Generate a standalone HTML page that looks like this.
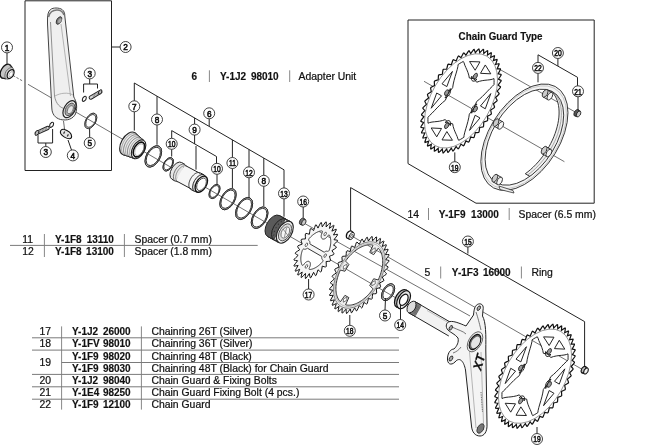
<!DOCTYPE html>
<html><head><meta charset="utf-8">
<style>
html,body{margin:0;padding:0;background:#fff;}
svg{display:block;will-change:transform;}
text{font-family:"Liberation Sans",sans-serif;fill:#111;stroke:#111;stroke-width:0.22px;}
.b{font-weight:bold;font-size:10px;stroke-width:0.15px;}
.t{font-size:10.4px;}
.ln{stroke:#222;stroke-width:1;fill:none;}
.tl{stroke:#7a7a7a;stroke-width:1.0;fill:none;}
.sep{stroke:#888;stroke-width:1;}
.lc{fill:#fff;stroke:#222;stroke-width:0.85;}
.lt{font-size:9.6px;text-anchor:middle;stroke-width:0.6px;}
</style></head>
<body>
<svg width="650" height="445" viewBox="0 0 650 445">
<!-- header texts -->
<g class="t">
  <text x="191.5" y="80" class="b">6</text>
  <text x="220.0" y="80" class="b">Y-1J2</text><text x="278.7" y="80" class="b" text-anchor="end">98010</text>
  <text x="298.5" y="80">Adapter Unit</text>

  <text x="407.5" y="217.5">14</text>
  <text x="438.8" y="217.5" class="b">Y-1F9</text><text x="498.9" y="217.5" class="b" text-anchor="end">13000</text>
  <text x="518.5" y="217.5">Spacer (6.5 mm)</text>

  <text x="424.5" y="276">5</text>
  <text x="451.8" y="276" class="b">Y-1F3</text><text x="510.7" y="276" class="b" text-anchor="end">16000</text>
  <text x="531.5" y="276">Ring</text>

  <text x="22.2" y="243">11</text>
  <text x="55.0" y="243" class="b">Y-1F8</text><text x="113.9" y="243" class="b" text-anchor="end">13110</text>
  <text x="134.5" y="243">Spacer (0.7 mm)</text>
  <text x="22.2" y="255.4">12</text>
  <text x="55.0" y="255.4" class="b">Y-1F8</text><text x="113.9" y="255.4" class="b" text-anchor="end">13100</text>
  <text x="134.5" y="255.4">Spacer (1.8 mm)</text>

  <text x="39.4" y="334.5">17</text>
  <text x="72.0" y="334.5" class="b">Y-1J2</text><text x="130.7" y="334.5" class="b" text-anchor="end">26000</text>
  <text x="151.5" y="334.5">Chainring 26T (Silver)</text>
  <text x="39.4" y="346.7">18</text>
  <text x="72.0" y="346.7" class="b">Y-1FV</text><text x="130.7" y="346.7" class="b" text-anchor="end">98010</text>
  <text x="151.5" y="346.7">Chainring 36T (Silver)</text>
  <text x="39.4" y="365.9">19</text>
  <text x="72.0" y="359.5" class="b">Y-1F9</text><text x="130.7" y="359.5" class="b" text-anchor="end">98020</text>
  <text x="151.5" y="359.5">Chainring 48T (Black)</text>
  <text x="72.0" y="371.5" class="b">Y-1F9</text><text x="130.7" y="371.5" class="b" text-anchor="end">98030</text>
  <text x="151.5" y="371.5">Chainring 48T (Black) for Chain Guard</text>
  <text x="39.4" y="383.8">20</text>
  <text x="72.0" y="383.8" class="b">Y-1J2</text><text x="130.7" y="383.8" class="b" text-anchor="end">98040</text>
  <text x="151.5" y="383.8">Chain Guard &amp; Fixing Bolts</text>
  <text x="39.4" y="396">21</text>
  <text x="72.0" y="396" class="b">Y-1E4</text><text x="130.7" y="396" class="b" text-anchor="end">98250</text>
  <text x="151.5" y="396">Chain Guard Fixing Bolt (4 pcs.)</text>
  <text x="39.4" y="408.3">22</text>
  <text x="72.0" y="408.3" class="b">Y-1F9</text><text x="130.7" y="408.3" class="b" text-anchor="end">12100</text>
  <text x="151.5" y="408.3">Chain Guard</text>

  <text x="458.6" y="39.5" class="b" textLength="84" lengthAdjust="spacingAndGlyphs">Chain Guard Type</text>
</g>
<!-- separators -->
<g class="sep">
  <line x1="209.4" y1="70.3" x2="209.4" y2="82"/>
  <line x1="289.7" y1="70.3" x2="289.7" y2="82"/>
  <line x1="428.5" y1="208" x2="428.5" y2="220"/>
  <line x1="509.2" y1="208" x2="509.2" y2="220"/>
  <line x1="440.7" y1="266.5" x2="440.7" y2="278.5"/>
  <line x1="521.4" y1="266.5" x2="521.4" y2="278.5"/>
  <line x1="44.4" y1="234" x2="44.4" y2="257"/>
  <line x1="124.4" y1="234" x2="124.4" y2="257"/>
  <line x1="61.6" y1="326.4" x2="61.6" y2="409.6"/>
  <line x1="141.4" y1="326.4" x2="141.4" y2="409.6"/>
</g>
<g class="tl">
  <line x1="10" y1="245.4" x2="257.7" y2="245.4"/>
  <line x1="32" y1="337.8" x2="399" y2="337.8"/>
  <line x1="32" y1="350.1" x2="399" y2="350.1"/>
  <line x1="61.6" y1="362.5" x2="399" y2="362.5"/>
  <line x1="32" y1="374.4" x2="399" y2="374.4"/>
  <line x1="32" y1="386.8" x2="399" y2="386.8"/>
  <line x1="32" y1="399.2" x2="399" y2="399.2"/>
</g>
<!-- boxes -->
<g class="ln">
  <polyline points="25,0.8 111.5,0.8 111.5,170.5 25,170.5 25,0.8"/>
  <polyline points="408,163.6 408,20 594.2,20 594.2,203.2 476,203.2 408,163.6"/>
</g>
<!-- PARTS -->
<g stroke="#333" stroke-width="0.7" fill="none">
<path d="M13,75.5 L23,81.2" stroke-dasharray="2.5,1.5"/>
<path d="M28,84.3 L415,309"/>
<path d="M302,222 L470,316"/>
<path d="M350,235 L585,371"/>
<path d="M424,81.3 L564.4,161.7"/>
<path d="M492,65 L577,113"/>
</g>
<circle transform="matrix(0.8660,-0.5,0,1,5.60,71.20)" r="6.3" fill="#c4c4c4" stroke="#111" stroke-width="1.3" vector-effect="non-scaling-stroke" />
<path d="M9.46,64.52 L12.58,67.88 L6.22,78.92 L1.74,77.88Z" fill="#c4c4c4" stroke="none"/><path d="M9.46,64.52 L12.58,67.88 M1.74,77.88 L6.22,78.92" stroke="#222" stroke-width="1.2" fill="none"/>
<circle transform="matrix(0.8660,-0.5,0,1,9.40,73.40)" r="5.2" fill="#d4d4d4" stroke="#555" stroke-width="0.8" vector-effect="non-scaling-stroke" />
<circle transform="matrix(0.8660,-0.5,0,1,10.60,74.10)" r="4.0" fill="#fafafa" stroke="#111" stroke-width="1.2" vector-effect="non-scaling-stroke" />
<circle transform="matrix(0.8660,-0.5,0,1,11.00,74.30)" r="2.4" fill="none" stroke="#999" stroke-width="0.7" vector-effect="non-scaling-stroke" />
<path d="M47.5,19 C47.5,9 52,8 56,8 C61,8 65,10 64.8,16 L73.8,97 C76,101 78,106 75.5,114 C73,119 67,121 60.5,119.5 C55,118 52,114 51.8,108 L47.5,24 Z" fill="#efefef" stroke="#444" stroke-width="1.0"/>
<path d="M50.5,22 L54.5,96 C56,104 60,108 66,109" fill="none" stroke="#777" stroke-width="0.8"/>
<path d="M61,24 L70.5,96" fill="none" stroke="#999" stroke-width="0.7"/>
<path d="M48.5,17 C50,11 54,10 57,10 C61,10 63,12 64,15" fill="none" stroke="#777" stroke-width="1.6"/>
<path d="M55,96 C60,93 68,92 73,95" fill="none" stroke="#999" stroke-width="0.7"/>
<circle transform="matrix(0.8660,-0.5,0,1,59.00,20.50)" r="3.2" fill="#777" stroke="#222" stroke-width="0.9" vector-effect="non-scaling-stroke" />
<circle transform="matrix(0.8660,-0.5,0,1,59.80,20.80)" r="2.0" fill="#aaa" stroke="#999" stroke-width="0.5" vector-effect="non-scaling-stroke" />
<circle transform="matrix(0.8660,-0.5,0,1,69.50,109.20)" r="7.6" fill="#eee" stroke="#222" stroke-width="1.2" vector-effect="non-scaling-stroke" />
<circle transform="matrix(0.8660,-0.5,0,1,69.90,109.40)" r="5.6" fill="#aaa" stroke="#444" stroke-width="0.9" vector-effect="non-scaling-stroke" />
<circle transform="matrix(0.8660,-0.5,0,1,70.30,109.70)" r="3.6" fill="#e8e8e8" stroke="#555" stroke-width="0.8" vector-effect="non-scaling-stroke" />
<path d="M63.5,121 L64.5,129" stroke="#444" stroke-width="0.8"/>
<path d="M90.8,97.6 L100.2,92.0" stroke="#222" stroke-width="4.3" stroke-linecap="round"/><path d="M90.8,97.6 L100.2,92.0" stroke="#d8d8d8" stroke-width="2.3" stroke-linecap="round"/><path d="M93.61,97.44 L92.80,94.90" stroke="#555" stroke-width="0.6"/><path d="M94.99,96.62 L94.17,94.08" stroke="#555" stroke-width="0.6"/><path d="M96.36,95.80 L95.55,93.26" stroke="#555" stroke-width="0.6"/><path d="M97.74,94.98 L96.92,92.44" stroke="#555" stroke-width="0.6"/><path d="M99.11,94.16 L98.30,91.62" stroke="#555" stroke-width="0.6"/><path d="M100.49,93.34 L99.67,90.80" stroke="#555" stroke-width="0.6"/>
<circle transform="matrix(0.8660,-0.5,0,1,100.20,92.00)" r="2.0" fill="#bbb" stroke="#222" stroke-width="1.0" vector-effect="non-scaling-stroke" />
<circle transform="matrix(0.8660,-0.5,0,1,84.30,98.80)" r="2.3" fill="#fff" stroke="#222" stroke-width="1.1" vector-effect="non-scaling-stroke" />
<path d="M36.9,132.9 L47.6,128.0" stroke="#222" stroke-width="4.3" stroke-linecap="round"/><path d="M36.9,132.9 L47.6,128.0" stroke="#d8d8d8" stroke-width="2.3" stroke-linecap="round"/><path d="M39.71,133.04 L39.18,130.43" stroke="#555" stroke-width="0.6"/><path d="M41.17,132.37 L40.63,129.76" stroke="#555" stroke-width="0.6"/><path d="M42.62,131.71 L42.09,129.09" stroke="#555" stroke-width="0.6"/><path d="M44.08,131.04 L43.54,128.43" stroke="#555" stroke-width="0.6"/><path d="M45.53,130.38 L45.00,127.76" stroke="#555" stroke-width="0.6"/><path d="M46.99,129.71 L46.45,127.10" stroke="#555" stroke-width="0.6"/>
<circle transform="matrix(0.8660,-0.5,0,1,36.90,132.90)" r="2.2" fill="#bbb" stroke="#222" stroke-width="1.0" vector-effect="non-scaling-stroke" />
<circle transform="matrix(0.8660,-0.5,0,1,51.60,124.80)" r="2.3" fill="#fff" stroke="#222" stroke-width="1.1" vector-effect="non-scaling-stroke" />
<path d="M60.8,130.5 C62.5,128.4 66,129.2 69.5,132.2 C72.5,135 72.2,138.8 69.4,138.8 C66.5,138.8 62,136 60.8,133.8 C60.2,132.6 60.2,131.4 60.8,130.5 Z" fill="#e4e4e4" stroke="#111" stroke-width="1.1"/>
<circle transform="matrix(0.8660,-0.5,0,1,64.20,132.60)" r="1.1" fill="#444" stroke="none" stroke-width="0" vector-effect="non-scaling-stroke" />
<circle transform="matrix(0.8660,-0.5,0,1,67.80,135.40)" r="1.1" fill="#444" stroke="none" stroke-width="0" vector-effect="non-scaling-stroke" />
<circle transform="matrix(0.8660,-0.5,0,1,90.80,120.90)" r="6.8999999999999995" fill="none" stroke="#222" stroke-width="0.8" vector-effect="non-scaling-stroke" /><circle transform="matrix(0.8660,-0.5,0,1,90.80,120.90)" r="6.3" fill="none" stroke="#ccc" stroke-width="1.2"/><circle transform="matrix(0.8660,-0.5,0,1,90.80,120.90)" r="6.8999999999999995" fill="none" stroke="#222" stroke-width="0.8" vector-effect="non-scaling-stroke" /><circle transform="matrix(0.8660,-0.5,0,1,90.80,120.90)" r="5.7" fill="none" stroke="#222" stroke-width="0.8" vector-effect="non-scaling-stroke" />
<path d="M134.75,132.68 L143.74,140.39 L133.46,158.21 L122.25,154.32Z" fill="#e8e8e8" stroke="none"/><path d="M134.75,132.68 L143.74,140.39 M122.25,154.32 L133.46,158.21" stroke="#222" stroke-width="1.0" fill="none"/>
<circle transform="matrix(0.8660,-0.5,0,1,128.50,143.50)" r="10.2" fill="#e8e8e8" stroke="#222" stroke-width="1.1" vector-effect="non-scaling-stroke" />
<path d="M134.75,132.68 L143.74,140.39 L133.46,158.21 L122.25,154.32Z" fill="#e8e8e8" stroke="none"/><path d="M134.75,132.68 L143.74,140.39 M122.25,154.32 L133.46,158.21" stroke="#222" stroke-width="1.0" fill="none"/>
<path d="M136.25,133.97 L135.71,133.71 L135.13,133.53 L134.52,133.42 L133.88,133.40 L133.21,133.46 L132.52,133.59 L131.81,133.81 L131.09,134.10 L130.37,134.46 L129.64,134.90 L128.91,135.41 L128.20,135.98 L127.50,136.61 L126.82,137.30 L126.16,138.05 L125.53,138.83 L124.94,139.66 L124.38,140.52 L123.87,141.42 L123.40,142.33 L122.98,143.26 L122.61,144.19 L122.30,145.13 L122.04,146.07 L121.84,146.99 L121.70,147.90 L121.63,148.78 L121.61,149.63 L121.66,150.44 L121.77,151.21 L121.93,151.93 L122.16,152.59 L122.45,153.20 L122.79,153.75 L123.18,154.22 L123.63,154.63 L124.12,154.97" fill="none" stroke="#888" stroke-width="0.7"/>
<path d="M137.75,135.25 L137.23,135.00 L136.67,134.82 L136.07,134.72 L135.45,134.70 L134.80,134.76 L134.13,134.89 L133.45,135.10 L132.75,135.38 L132.04,135.73 L131.34,136.16 L130.64,136.65 L129.94,137.20 L129.26,137.82 L128.60,138.49 L127.97,139.21 L127.36,139.97 L126.78,140.77 L126.24,141.61 L125.74,142.47 L125.29,143.36 L124.88,144.26 L124.52,145.17 L124.22,146.08 L123.97,146.99 L123.78,147.88 L123.64,148.76 L123.57,149.61 L123.55,150.44 L123.60,151.22 L123.70,151.97 L123.87,152.67 L124.09,153.31 L124.37,153.90 L124.70,154.43 L125.08,154.90 L125.51,155.29 L125.99,155.62" fill="none" stroke="#555" stroke-width="0.7"/>
<path d="M139.25,136.54 L138.74,136.29 L138.20,136.12 L137.63,136.03 L137.02,136.00 L136.39,136.06 L135.74,136.18 L135.08,136.39 L134.40,136.66 L133.72,137.00 L133.04,137.41 L132.36,137.89 L131.69,138.43 L131.03,139.02 L130.39,139.67 L129.77,140.37 L129.18,141.11 L128.62,141.89 L128.10,142.70 L127.62,143.53 L127.18,144.39 L126.78,145.26 L126.44,146.14 L126.14,147.03 L125.90,147.90 L125.71,148.77 L125.58,149.62 L125.51,150.45 L125.50,151.25 L125.54,152.01 L125.64,152.73 L125.80,153.41 L126.01,154.03 L126.28,154.61 L126.60,155.12 L126.97,155.57 L127.39,155.95 L127.85,156.26" fill="none" stroke="#888" stroke-width="0.7"/>
<path d="M140.74,137.82 L140.26,137.59 L139.73,137.42 L139.18,137.33 L138.59,137.31 L137.99,137.36 L137.36,137.48 L136.71,137.68 L136.06,137.94 L135.40,138.27 L134.74,138.67 L134.08,139.13 L133.43,139.65 L132.79,140.23 L132.17,140.85 L131.58,141.53 L131.01,142.24 L130.47,143.00 L129.96,143.78 L129.49,144.59 L129.07,145.42 L128.68,146.27 L128.35,147.12 L128.06,147.97 L127.83,148.82 L127.65,149.66 L127.52,150.48 L127.45,151.28 L127.44,152.06 L127.48,152.79 L127.58,153.49 L127.73,154.15 L127.94,154.75 L128.20,155.31 L128.51,155.80 L128.87,156.24 L129.27,156.61 L129.72,156.91" fill="none" stroke="#555" stroke-width="0.7"/>
<path d="M142.24,139.11 L141.77,138.88 L141.27,138.72 L140.73,138.63 L140.17,138.61 L139.58,138.66 L138.97,138.78 L138.35,138.97 L137.71,139.22 L137.08,139.54 L136.44,139.93 L135.80,140.37 L135.17,140.88 L134.56,141.43 L133.96,142.04 L133.38,142.69 L132.83,143.38 L132.31,144.11 L131.82,144.87 L131.37,145.65 L130.96,146.45 L130.59,147.27 L130.26,148.09 L129.99,148.92 L129.76,149.74 L129.59,150.55 L129.47,151.35 L129.40,152.12 L129.38,152.87 L129.42,153.58 L129.52,154.26 L129.67,154.89 L129.87,155.47 L130.12,156.01 L130.42,156.49 L130.77,156.91 L131.16,157.27 L131.59,157.56" fill="none" stroke="#888" stroke-width="0.7"/>
<circle transform="matrix(0.8660,-0.5,0,1,138.60,149.30)" r="8.4" fill="#f4f4f4" stroke="#222" stroke-width="1.1" vector-effect="non-scaling-stroke" />
<circle transform="matrix(0.8660,-0.5,0,1,138.90,149.50)" r="6.6" fill="#fff" stroke="#111" stroke-width="1.6" vector-effect="non-scaling-stroke" />
<circle transform="matrix(0.8660,-0.5,0,1,139.30,149.70)" r="5.2" fill="none" stroke="#999" stroke-width="0.7" vector-effect="non-scaling-stroke" />
<circle transform="matrix(0.8660,-0.5,0,1,153.30,156.40)" r="9.6" fill="none" stroke="#222" stroke-width="0.9" vector-effect="non-scaling-stroke" /><circle transform="matrix(0.8660,-0.5,0,1,153.30,156.40)" r="8.9" fill="none" stroke="#bbb" stroke-width="1.4"/><circle transform="matrix(0.8660,-0.5,0,1,153.30,156.40)" r="9.6" fill="none" stroke="#222" stroke-width="0.9" vector-effect="non-scaling-stroke" /><circle transform="matrix(0.8660,-0.5,0,1,153.30,156.40)" r="8.200000000000001" fill="none" stroke="#222" stroke-width="0.9" vector-effect="non-scaling-stroke" />
<circle transform="matrix(0.8660,-0.5,0,1,168.20,164.30)" r="6.0" fill="none" stroke="#222" stroke-width="0.9" vector-effect="non-scaling-stroke" /><circle transform="matrix(0.8660,-0.5,0,1,168.20,164.30)" r="5.5" fill="none" stroke="#ccc" stroke-width="1.0"/><circle transform="matrix(0.8660,-0.5,0,1,168.20,164.30)" r="6.0" fill="none" stroke="#222" stroke-width="0.9" vector-effect="non-scaling-stroke" /><circle transform="matrix(0.8660,-0.5,0,1,168.20,164.30)" r="5.0" fill="none" stroke="#222" stroke-width="0.9" vector-effect="non-scaling-stroke" />
<circle transform="matrix(0.8660,-0.5,0,1,176.80,170.90)" r="7.9" fill="#e6e6e6" stroke="#222" stroke-width="1.0" vector-effect="non-scaling-stroke" />
<path d="M181.64,162.52 L185.04,164.52 L175.36,181.28 L171.96,179.28Z" fill="#e6e6e6" stroke="none"/><path d="M181.64,162.52 L185.04,164.52 M171.96,179.28 L175.36,181.28" stroke="#222" stroke-width="1.0" fill="none"/>
<circle transform="matrix(0.8660,-0.5,0,1,180.20,172.90)" r="7.9" fill="none" stroke="#555" stroke-width="0.8" vector-effect="non-scaling-stroke" />
<path d="M184.67,165.16 L205.97,176.56 L197.03,192.04 L175.73,180.64Z" fill="#f6f6f6" stroke="none"/><path d="M184.67,165.16 L205.97,176.56 M175.73,180.64 L197.03,192.04" stroke="#222" stroke-width="1.0" fill="none"/>
<path d="M186.47,166.16 L186.08,165.97 L185.65,165.83 L185.20,165.76 L184.73,165.74 L184.23,165.78 L183.72,165.88 L183.20,166.04 L182.67,166.25 L182.13,166.52 L181.60,166.85 L181.06,167.22 L180.54,167.64 L180.02,168.11 L179.52,168.62 L179.03,169.16 L178.57,169.75 L178.13,170.36 L177.72,170.99 L177.34,171.65 L177.00,172.32 L176.69,173.01 L176.42,173.70 L176.19,174.39 L176.00,175.08 L175.85,175.76 L175.75,176.43 L175.69,177.08 L175.68,177.70 L175.71,178.30 L175.79,178.87 L175.92,179.40 L176.09,179.89 L176.30,180.34 L176.55,180.74 L176.84,181.10 L177.17,181.40 L177.53,181.64" fill="none" stroke="#666" stroke-width="0.7"/>
<path d="M200.38,172.93 L204.18,174.93 L194.62,191.47 L190.82,189.47Z" fill="#ddd" stroke="none"/><path d="M200.38,172.93 L204.18,174.93 M190.82,189.47 L194.62,191.47" stroke="#222" stroke-width="1.0" fill="none"/>
<path d="M200.38,172.93 L199.95,172.72 L199.50,172.58 L199.02,172.50 L198.51,172.48 L197.99,172.53 L197.44,172.63 L196.88,172.80 L196.32,173.03 L195.74,173.32 L195.17,173.66 L194.60,174.06 L194.04,174.51 L193.49,175.01 L192.95,175.56 L192.43,176.14 L191.94,176.76 L191.47,177.41 L191.03,178.09 L190.63,178.80 L190.26,179.52 L189.92,180.25 L189.63,180.99 L189.39,181.73 L189.18,182.46 L189.03,183.19 L188.92,183.90 L188.86,184.60 L188.85,185.26 L188.88,185.90 L188.97,186.51 L189.10,187.08 L189.28,187.60 L189.51,188.08 L189.77,188.51 L190.08,188.89 L190.44,189.21 L190.82,189.47" fill="none" stroke="#333" stroke-width="1.0"/>
<circle transform="matrix(0.8660,-0.5,0,1,199.40,183.20)" r="7.8" fill="#eee" stroke="#222" stroke-width="1.0" vector-effect="non-scaling-stroke" />
<circle transform="matrix(0.8660,-0.5,0,1,201.30,184.20)" r="7.2" fill="#f2f2f2" stroke="#111" stroke-width="1.4" vector-effect="non-scaling-stroke" />
<circle transform="matrix(0.8660,-0.5,0,1,201.50,184.30)" r="5.6" fill="#fff" stroke="#444" stroke-width="1.0" vector-effect="non-scaling-stroke" />
<circle transform="matrix(0.8660,-0.5,0,1,214.50,191.50)" r="6.3" fill="none" stroke="#222" stroke-width="0.9" vector-effect="non-scaling-stroke" /><circle transform="matrix(0.8660,-0.5,0,1,214.50,191.50)" r="5.8" fill="none" stroke="#ccc" stroke-width="1.0"/><circle transform="matrix(0.8660,-0.5,0,1,214.50,191.50)" r="6.3" fill="none" stroke="#222" stroke-width="0.9" vector-effect="non-scaling-stroke" /><circle transform="matrix(0.8660,-0.5,0,1,214.50,191.50)" r="5.3" fill="none" stroke="#222" stroke-width="0.9" vector-effect="non-scaling-stroke" />
<circle transform="matrix(0.8660,-0.5,0,1,228.00,199.20)" r="9.450000000000001" fill="none" stroke="#222" stroke-width="0.9" vector-effect="non-scaling-stroke" /><circle transform="matrix(0.8660,-0.5,0,1,228.00,199.20)" r="8.8" fill="none" stroke="#bbb" stroke-width="1.3"/><circle transform="matrix(0.8660,-0.5,0,1,228.00,199.20)" r="9.450000000000001" fill="none" stroke="#222" stroke-width="0.9" vector-effect="non-scaling-stroke" /><circle transform="matrix(0.8660,-0.5,0,1,228.00,199.20)" r="8.15" fill="none" stroke="#222" stroke-width="0.9" vector-effect="non-scaling-stroke" />
<circle transform="matrix(0.8660,-0.5,0,1,244.10,208.50)" r="9.85" fill="none" stroke="#222" stroke-width="0.9" vector-effect="non-scaling-stroke" /><circle transform="matrix(0.8660,-0.5,0,1,244.10,208.50)" r="9.2" fill="none" stroke="#bbb" stroke-width="1.3"/><circle transform="matrix(0.8660,-0.5,0,1,244.10,208.50)" r="9.85" fill="none" stroke="#222" stroke-width="0.9" vector-effect="non-scaling-stroke" /><circle transform="matrix(0.8660,-0.5,0,1,244.10,208.50)" r="8.549999999999999" fill="none" stroke="#222" stroke-width="0.9" vector-effect="non-scaling-stroke" />
<circle transform="matrix(0.8660,-0.5,0,1,259.60,217.70)" r="9.65" fill="none" stroke="#222" stroke-width="0.9" vector-effect="non-scaling-stroke" /><circle transform="matrix(0.8660,-0.5,0,1,259.60,217.70)" r="9.0" fill="none" stroke="#bbb" stroke-width="1.3"/><circle transform="matrix(0.8660,-0.5,0,1,259.60,217.70)" r="9.65" fill="none" stroke="#222" stroke-width="0.9" vector-effect="non-scaling-stroke" /><circle transform="matrix(0.8660,-0.5,0,1,259.60,217.70)" r="8.35" fill="none" stroke="#222" stroke-width="0.9" vector-effect="non-scaling-stroke" />
<path d="M279.50,215.61 L286.00,219.21 L274.00,239.99 L267.50,236.39Z" fill="#555" stroke="none"/><path d="M279.50,215.61 L286.00,219.21 M267.50,236.39 L274.00,239.99" stroke="#222" stroke-width="1.0" fill="none"/>
<circle transform="matrix(0.8660,-0.5,0,1,273.50,226.00)" r="9.8" fill="#5a5a5a" stroke="#222" stroke-width="1.0" vector-effect="non-scaling-stroke" />
<path d="M279.50,215.61 L286.00,219.21 L274.00,239.99 L267.50,236.39Z" fill="#5a5a5a" stroke="none"/><path d="M279.50,215.61 L286.00,219.21 M267.50,236.39 L274.00,239.99" stroke="#222" stroke-width="1.0" fill="none"/>
<path d="M286.00,219.21 L290.80,221.81 L278.80,242.59 L274.00,239.99Z" fill="#e8e8e8" stroke="none"/><path d="M286.00,219.21 L290.80,221.81 M274.00,239.99 L278.80,242.59" stroke="#222" stroke-width="1.0" fill="none"/>
<circle transform="matrix(0.8660,-0.5,0,1,280.00,229.60)" r="9.8" fill="none" stroke="#222" stroke-width="1.0" vector-effect="non-scaling-stroke" />
<circle transform="matrix(0.8660,-0.5,0,1,282.20,230.80)" r="9.8" fill="none" stroke="#333" stroke-width="1.3" stroke-dasharray="1.2,2.2"/>
<circle transform="matrix(0.8660,-0.5,0,1,284.80,232.20)" r="9.8" fill="#f0f0f0" stroke="#222" stroke-width="1.1" vector-effect="non-scaling-stroke" />
<circle transform="matrix(0.8660,-0.5,0,1,285.00,232.30)" r="7.6" fill="#ddd" stroke="#444" stroke-width="0.9" vector-effect="non-scaling-stroke" />
<circle transform="matrix(0.8660,-0.5,0,1,285.30,232.50)" r="5.0" fill="#f6f6f6" stroke="#555" stroke-width="0.8" vector-effect="non-scaling-stroke" />
<path d="M283,229 L288,235.5 M286.5,228 L284.5,237" stroke="#666" stroke-width="0.7"/>
<path d="M303.51,218.23 L305.39,219.64 L302.21,225.16 L300.09,224.17Z" fill="#777" stroke="none"/><path d="M303.51,218.23 L305.39,219.64 M300.09,224.17 L302.21,225.16" stroke="#222" stroke-width="1.0" fill="none"/>
<circle transform="matrix(0.8660,-0.5,0,1,301.80,221.20)" r="2.8" fill="#777" stroke="#222" stroke-width="0.9" vector-effect="non-scaling-stroke" />
<circle transform="matrix(0.8660,-0.5,0,1,303.80,222.40)" r="2.6" fill="#ccc" stroke="#222" stroke-width="0.9" vector-effect="non-scaling-stroke" />
<path d="M351.22,231.10 L353.50,232.71 L349.70,239.29 L347.18,238.10Z" fill="#fff" stroke="none"/><path d="M351.22,231.10 L353.50,232.71 M347.18,238.10 L349.70,239.29" stroke="#222" stroke-width="1.1" fill="none"/>
<circle transform="matrix(0.8660,-0.5,0,1,349.20,234.60)" r="3.3" fill="#fff" stroke="#111" stroke-width="1.3" vector-effect="non-scaling-stroke" />
<path d="M351.22,231.10 L353.50,232.71 L349.70,239.29 L347.18,238.10Z" fill="#fff" stroke="none"/><path d="M351.22,231.10 L353.50,232.71 M347.18,238.10 L349.70,239.29" stroke="#222" stroke-width="1.1" fill="none"/>
<circle transform="matrix(0.8660,-0.5,0,1,351.60,236.00)" r="3.1" fill="#eee" stroke="#111" stroke-width="1.0" vector-effect="non-scaling-stroke" />
<circle transform="matrix(0.8660,-0.5,0,1,351.80,236.10)" r="1.4" fill="#fff" stroke="#333" stroke-width="0.8" vector-effect="non-scaling-stroke" />
<g transform="matrix(0.8660,-0.5,0,1,461.00,100.90)"><path d="M43.20,0.00 L44.94,1.47 L46.32,2.73 L46.28,3.34 L44.74,4.41 L42.83,5.64 L44.36,7.32 L45.57,8.75 L45.45,9.35 L43.79,10.21 L41.73,11.18 L43.02,13.05 L44.03,14.63 L43.84,15.20 L42.08,15.84 L39.91,16.53 L40.95,18.56 L41.75,20.25 L41.48,20.79 L39.65,21.19 L37.41,21.60 L38.18,23.74 L38.75,25.53 L38.41,26.03 L36.55,26.19 L34.27,26.30 L34.75,28.52 L35.08,30.36 L34.68,30.82 L32.81,30.73 L30.55,30.55 L30.73,32.81 L30.82,34.68 L30.36,35.08 L28.52,34.75 L26.30,34.27 L26.19,36.55 L26.03,38.41 L25.53,38.75 L23.74,38.18 L21.60,37.41 L21.19,39.65 L20.79,41.48 L20.25,41.75 L18.56,40.95 L16.53,39.91 L15.84,42.08 L15.20,43.84 L14.63,44.03 L13.05,43.02 L11.18,41.73 L10.21,43.79 L9.35,45.45 L8.75,45.57 L7.32,44.36 L5.64,42.83 L4.41,44.74 L3.34,46.28 L2.73,46.32 L1.47,44.94 L0.00,43.20 L-1.47,44.94 L-2.73,46.32 L-3.34,46.28 L-4.41,44.74 L-5.64,42.83 L-7.32,44.36 L-8.75,45.57 L-9.35,45.45 L-10.21,43.79 L-11.18,41.73 L-13.05,43.02 L-14.63,44.03 L-15.20,43.84 L-15.84,42.08 L-16.53,39.91 L-18.56,40.95 L-20.25,41.75 L-20.79,41.48 L-21.19,39.65 L-21.60,37.41 L-23.74,38.18 L-25.53,38.75 L-26.03,38.41 L-26.19,36.55 L-26.30,34.27 L-28.52,34.75 L-30.36,35.08 L-30.82,34.68 L-30.73,32.81 L-30.55,30.55 L-32.81,30.73 L-34.68,30.82 L-35.08,30.36 L-34.75,28.52 L-34.27,26.30 L-36.55,26.19 L-38.41,26.03 L-38.75,25.53 L-38.18,23.74 L-37.41,21.60 L-39.65,21.19 L-41.48,20.79 L-41.75,20.25 L-40.95,18.56 L-39.91,16.53 L-42.08,15.84 L-43.84,15.20 L-44.03,14.63 L-43.02,13.05 L-41.73,11.18 L-43.79,10.21 L-45.45,9.35 L-45.57,8.75 L-44.36,7.32 L-42.83,5.64 L-44.74,4.41 L-46.28,3.34 L-46.32,2.73 L-44.94,1.47 L-43.20,0.00 L-44.94,-1.47 L-46.32,-2.73 L-46.28,-3.34 L-44.74,-4.41 L-42.83,-5.64 L-44.36,-7.32 L-45.57,-8.75 L-45.45,-9.35 L-43.79,-10.21 L-41.73,-11.18 L-43.02,-13.05 L-44.03,-14.63 L-43.84,-15.20 L-42.08,-15.84 L-39.91,-16.53 L-40.95,-18.56 L-41.75,-20.25 L-41.48,-20.79 L-39.65,-21.19 L-37.41,-21.60 L-38.18,-23.74 L-38.75,-25.53 L-38.41,-26.03 L-36.55,-26.19 L-34.27,-26.30 L-34.75,-28.52 L-35.08,-30.36 L-34.68,-30.82 L-32.81,-30.73 L-30.55,-30.55 L-30.73,-32.81 L-30.82,-34.68 L-30.36,-35.08 L-28.52,-34.75 L-26.30,-34.27 L-26.19,-36.55 L-26.03,-38.41 L-25.53,-38.75 L-23.74,-38.18 L-21.60,-37.41 L-21.19,-39.65 L-20.79,-41.48 L-20.25,-41.75 L-18.56,-40.95 L-16.53,-39.91 L-15.84,-42.08 L-15.20,-43.84 L-14.63,-44.03 L-13.05,-43.02 L-11.18,-41.73 L-10.21,-43.79 L-9.35,-45.45 L-8.75,-45.57 L-7.32,-44.36 L-5.64,-42.83 L-4.41,-44.74 L-3.34,-46.28 L-2.73,-46.32 L-1.47,-44.94 L-0.00,-43.20 L1.47,-44.94 L2.73,-46.32 L3.34,-46.28 L4.41,-44.74 L5.64,-42.83 L7.32,-44.36 L8.75,-45.57 L9.35,-45.45 L10.21,-43.79 L11.18,-41.73 L13.05,-43.02 L14.63,-44.03 L15.20,-43.84 L15.84,-42.08 L16.53,-39.91 L18.56,-40.95 L20.25,-41.75 L20.79,-41.48 L21.19,-39.65 L21.60,-37.41 L23.74,-38.18 L25.53,-38.75 L26.03,-38.41 L26.19,-36.55 L26.30,-34.27 L28.52,-34.75 L30.36,-35.08 L30.82,-34.68 L30.73,-32.81 L30.55,-30.55 L32.81,-30.73 L34.68,-30.82 L35.08,-30.36 L34.75,-28.52 L34.27,-26.30 L36.55,-26.19 L38.41,-26.03 L38.75,-25.53 L38.18,-23.74 L37.41,-21.60 L39.65,-21.19 L41.48,-20.79 L41.75,-20.25 L40.95,-18.56 L39.91,-16.53 L42.08,-15.84 L43.84,-15.20 L44.03,-14.63 L43.02,-13.05 L41.73,-11.18 L43.79,-10.21 L45.45,-9.35 L45.57,-8.75 L44.36,-7.32 L42.83,-5.64 L44.74,-4.41 L46.28,-3.34 L46.32,-2.73 L44.94,-1.47Z" fill="#fff" stroke="#111" stroke-width="1.2" vector-effect="non-scaling-stroke"/><circle r="42.2" fill="none" stroke="#666" stroke-width="0.7" vector-effect="non-scaling-stroke"/><path d="M-3.33,-38.05 L-1.33,-38.18 L0.67,-38.19 L2.66,-38.11 L3.54,-36.26 L4.41,-33.49 L5.57,-30.62 L6.81,-27.64 L7.97,-24.55 L8.95,-21.36 L9.62,-18.10 L18.49,-12.38 L16.95,-11.96 L15.36,-12.10 L13.91,-12.78 L12.78,-13.91 L12.10,-15.36 L11.96,-16.95 L12.38,-18.49 L18.10,-9.62 L21.36,-8.95 L24.55,-7.97 L27.64,-6.81 L30.62,-5.57 L33.49,-4.41 L36.26,-3.54 L38.05,-3.33 L38.18,-1.33 L38.19,0.67 L38.11,2.66 L36.26,3.54 L33.49,4.41 L30.62,5.57 L27.64,6.81 L24.55,7.97 L21.36,8.95 L18.10,9.62 L12.38,18.49 L11.96,16.95 L12.10,15.36 L12.78,13.91 L13.91,12.78 L15.36,12.10 L16.95,11.96 L18.49,12.38 L9.62,18.10 L8.95,21.36 L7.97,24.55 L6.81,27.64 L5.57,30.62 L4.41,33.49 L3.54,36.26 L3.33,38.05 L1.33,38.18 L-0.67,38.19 L-2.66,38.11 L-3.54,36.26 L-4.41,33.49 L-5.57,30.62 L-6.81,27.64 L-7.97,24.55 L-8.95,21.36 L-9.62,18.10 L-18.49,12.38 L-16.95,11.96 L-15.36,12.10 L-13.91,12.78 L-12.78,13.91 L-12.10,15.36 L-11.96,16.95 L-12.38,18.49 L-18.10,9.62 L-21.36,8.95 L-24.55,7.97 L-27.64,6.81 L-30.62,5.57 L-33.49,4.41 L-36.26,3.54 L-38.05,3.33 L-38.18,1.33 L-38.19,-0.67 L-38.11,-2.66 L-36.26,-3.54 L-33.49,-4.41 L-30.62,-5.57 L-27.64,-6.81 L-24.55,-7.97 L-21.36,-8.95 L-18.10,-9.62 L-12.38,-18.49 L-11.96,-16.95 L-12.10,-15.36 L-12.78,-13.91 L-13.91,-12.78 L-15.36,-12.10 L-16.95,-11.96 L-18.49,-12.38 L-9.62,-18.10 L-8.95,-21.36 L-7.97,-24.55 L-6.81,-27.64 L-5.57,-30.62 L-4.41,-33.49 L-3.54,-36.26Z" fill="#fff" stroke="#1a1a1a" stroke-width="0.95" vector-effect="non-scaling-stroke"/><path d="M9.87,-34.41 L21.92,-28.05 L16.34,-22.49Z" fill="#fff" stroke="#1a1a1a" stroke-width="0.95" stroke-linejoin="round" vector-effect="non-scaling-stroke"/><path d="M28.05,-21.92 L34.41,-9.87 L22.49,-16.34Z" fill="#fff" stroke="#1a1a1a" stroke-width="0.95" stroke-linejoin="round" vector-effect="non-scaling-stroke"/><circle cx="16.55" cy="-16.55" r="2.5" fill="#999" stroke="#222" stroke-width="0.9" vector-effect="non-scaling-stroke"/><path d="M34.41,9.87 L28.05,21.92 L22.49,16.34Z" fill="#fff" stroke="#1a1a1a" stroke-width="0.95" stroke-linejoin="round" vector-effect="non-scaling-stroke"/><path d="M21.92,28.05 L9.87,34.41 L16.34,22.49Z" fill="#fff" stroke="#1a1a1a" stroke-width="0.95" stroke-linejoin="round" vector-effect="non-scaling-stroke"/><circle cx="16.55" cy="16.55" r="2.5" fill="#999" stroke="#222" stroke-width="0.9" vector-effect="non-scaling-stroke"/><path d="M-9.87,34.41 L-21.92,28.05 L-16.34,22.49Z" fill="#fff" stroke="#1a1a1a" stroke-width="0.95" stroke-linejoin="round" vector-effect="non-scaling-stroke"/><path d="M-28.05,21.92 L-34.41,9.87 L-22.49,16.34Z" fill="#fff" stroke="#1a1a1a" stroke-width="0.95" stroke-linejoin="round" vector-effect="non-scaling-stroke"/><circle cx="-16.55" cy="16.55" r="2.5" fill="#999" stroke="#222" stroke-width="0.9" vector-effect="non-scaling-stroke"/><path d="M-34.41,-9.87 L-28.05,-21.92 L-22.49,-16.34Z" fill="#fff" stroke="#1a1a1a" stroke-width="0.95" stroke-linejoin="round" vector-effect="non-scaling-stroke"/><path d="M-21.92,-28.05 L-9.87,-34.41 L-16.34,-22.49Z" fill="#fff" stroke="#1a1a1a" stroke-width="0.95" stroke-linejoin="round" vector-effect="non-scaling-stroke"/><circle cx="-16.55" cy="-16.55" r="2.5" fill="#999" stroke="#222" stroke-width="0.9" vector-effect="non-scaling-stroke"/></g>
<g transform="matrix(0.8660,-0.5,0,1,535.00,376.20)"><path d="M43.20,0.00 L44.94,1.47 L46.32,2.73 L46.28,3.34 L44.74,4.41 L42.83,5.64 L44.36,7.32 L45.57,8.75 L45.45,9.35 L43.79,10.21 L41.73,11.18 L43.02,13.05 L44.03,14.63 L43.84,15.20 L42.08,15.84 L39.91,16.53 L40.95,18.56 L41.75,20.25 L41.48,20.79 L39.65,21.19 L37.41,21.60 L38.18,23.74 L38.75,25.53 L38.41,26.03 L36.55,26.19 L34.27,26.30 L34.75,28.52 L35.08,30.36 L34.68,30.82 L32.81,30.73 L30.55,30.55 L30.73,32.81 L30.82,34.68 L30.36,35.08 L28.52,34.75 L26.30,34.27 L26.19,36.55 L26.03,38.41 L25.53,38.75 L23.74,38.18 L21.60,37.41 L21.19,39.65 L20.79,41.48 L20.25,41.75 L18.56,40.95 L16.53,39.91 L15.84,42.08 L15.20,43.84 L14.63,44.03 L13.05,43.02 L11.18,41.73 L10.21,43.79 L9.35,45.45 L8.75,45.57 L7.32,44.36 L5.64,42.83 L4.41,44.74 L3.34,46.28 L2.73,46.32 L1.47,44.94 L0.00,43.20 L-1.47,44.94 L-2.73,46.32 L-3.34,46.28 L-4.41,44.74 L-5.64,42.83 L-7.32,44.36 L-8.75,45.57 L-9.35,45.45 L-10.21,43.79 L-11.18,41.73 L-13.05,43.02 L-14.63,44.03 L-15.20,43.84 L-15.84,42.08 L-16.53,39.91 L-18.56,40.95 L-20.25,41.75 L-20.79,41.48 L-21.19,39.65 L-21.60,37.41 L-23.74,38.18 L-25.53,38.75 L-26.03,38.41 L-26.19,36.55 L-26.30,34.27 L-28.52,34.75 L-30.36,35.08 L-30.82,34.68 L-30.73,32.81 L-30.55,30.55 L-32.81,30.73 L-34.68,30.82 L-35.08,30.36 L-34.75,28.52 L-34.27,26.30 L-36.55,26.19 L-38.41,26.03 L-38.75,25.53 L-38.18,23.74 L-37.41,21.60 L-39.65,21.19 L-41.48,20.79 L-41.75,20.25 L-40.95,18.56 L-39.91,16.53 L-42.08,15.84 L-43.84,15.20 L-44.03,14.63 L-43.02,13.05 L-41.73,11.18 L-43.79,10.21 L-45.45,9.35 L-45.57,8.75 L-44.36,7.32 L-42.83,5.64 L-44.74,4.41 L-46.28,3.34 L-46.32,2.73 L-44.94,1.47 L-43.20,0.00 L-44.94,-1.47 L-46.32,-2.73 L-46.28,-3.34 L-44.74,-4.41 L-42.83,-5.64 L-44.36,-7.32 L-45.57,-8.75 L-45.45,-9.35 L-43.79,-10.21 L-41.73,-11.18 L-43.02,-13.05 L-44.03,-14.63 L-43.84,-15.20 L-42.08,-15.84 L-39.91,-16.53 L-40.95,-18.56 L-41.75,-20.25 L-41.48,-20.79 L-39.65,-21.19 L-37.41,-21.60 L-38.18,-23.74 L-38.75,-25.53 L-38.41,-26.03 L-36.55,-26.19 L-34.27,-26.30 L-34.75,-28.52 L-35.08,-30.36 L-34.68,-30.82 L-32.81,-30.73 L-30.55,-30.55 L-30.73,-32.81 L-30.82,-34.68 L-30.36,-35.08 L-28.52,-34.75 L-26.30,-34.27 L-26.19,-36.55 L-26.03,-38.41 L-25.53,-38.75 L-23.74,-38.18 L-21.60,-37.41 L-21.19,-39.65 L-20.79,-41.48 L-20.25,-41.75 L-18.56,-40.95 L-16.53,-39.91 L-15.84,-42.08 L-15.20,-43.84 L-14.63,-44.03 L-13.05,-43.02 L-11.18,-41.73 L-10.21,-43.79 L-9.35,-45.45 L-8.75,-45.57 L-7.32,-44.36 L-5.64,-42.83 L-4.41,-44.74 L-3.34,-46.28 L-2.73,-46.32 L-1.47,-44.94 L-0.00,-43.20 L1.47,-44.94 L2.73,-46.32 L3.34,-46.28 L4.41,-44.74 L5.64,-42.83 L7.32,-44.36 L8.75,-45.57 L9.35,-45.45 L10.21,-43.79 L11.18,-41.73 L13.05,-43.02 L14.63,-44.03 L15.20,-43.84 L15.84,-42.08 L16.53,-39.91 L18.56,-40.95 L20.25,-41.75 L20.79,-41.48 L21.19,-39.65 L21.60,-37.41 L23.74,-38.18 L25.53,-38.75 L26.03,-38.41 L26.19,-36.55 L26.30,-34.27 L28.52,-34.75 L30.36,-35.08 L30.82,-34.68 L30.73,-32.81 L30.55,-30.55 L32.81,-30.73 L34.68,-30.82 L35.08,-30.36 L34.75,-28.52 L34.27,-26.30 L36.55,-26.19 L38.41,-26.03 L38.75,-25.53 L38.18,-23.74 L37.41,-21.60 L39.65,-21.19 L41.48,-20.79 L41.75,-20.25 L40.95,-18.56 L39.91,-16.53 L42.08,-15.84 L43.84,-15.20 L44.03,-14.63 L43.02,-13.05 L41.73,-11.18 L43.79,-10.21 L45.45,-9.35 L45.57,-8.75 L44.36,-7.32 L42.83,-5.64 L44.74,-4.41 L46.28,-3.34 L46.32,-2.73 L44.94,-1.47Z" fill="#fff" stroke="#111" stroke-width="1.2" vector-effect="non-scaling-stroke"/><circle r="42.2" fill="none" stroke="#666" stroke-width="0.7" vector-effect="non-scaling-stroke"/><path d="M-3.33,-38.05 L-1.33,-38.18 L0.67,-38.19 L2.66,-38.11 L3.54,-36.26 L4.41,-33.49 L5.57,-30.62 L6.81,-27.64 L7.97,-24.55 L8.95,-21.36 L9.62,-18.10 L18.49,-12.38 L16.95,-11.96 L15.36,-12.10 L13.91,-12.78 L12.78,-13.91 L12.10,-15.36 L11.96,-16.95 L12.38,-18.49 L18.10,-9.62 L21.36,-8.95 L24.55,-7.97 L27.64,-6.81 L30.62,-5.57 L33.49,-4.41 L36.26,-3.54 L38.05,-3.33 L38.18,-1.33 L38.19,0.67 L38.11,2.66 L36.26,3.54 L33.49,4.41 L30.62,5.57 L27.64,6.81 L24.55,7.97 L21.36,8.95 L18.10,9.62 L12.38,18.49 L11.96,16.95 L12.10,15.36 L12.78,13.91 L13.91,12.78 L15.36,12.10 L16.95,11.96 L18.49,12.38 L9.62,18.10 L8.95,21.36 L7.97,24.55 L6.81,27.64 L5.57,30.62 L4.41,33.49 L3.54,36.26 L3.33,38.05 L1.33,38.18 L-0.67,38.19 L-2.66,38.11 L-3.54,36.26 L-4.41,33.49 L-5.57,30.62 L-6.81,27.64 L-7.97,24.55 L-8.95,21.36 L-9.62,18.10 L-18.49,12.38 L-16.95,11.96 L-15.36,12.10 L-13.91,12.78 L-12.78,13.91 L-12.10,15.36 L-11.96,16.95 L-12.38,18.49 L-18.10,9.62 L-21.36,8.95 L-24.55,7.97 L-27.64,6.81 L-30.62,5.57 L-33.49,4.41 L-36.26,3.54 L-38.05,3.33 L-38.18,1.33 L-38.19,-0.67 L-38.11,-2.66 L-36.26,-3.54 L-33.49,-4.41 L-30.62,-5.57 L-27.64,-6.81 L-24.55,-7.97 L-21.36,-8.95 L-18.10,-9.62 L-12.38,-18.49 L-11.96,-16.95 L-12.10,-15.36 L-12.78,-13.91 L-13.91,-12.78 L-15.36,-12.10 L-16.95,-11.96 L-18.49,-12.38 L-9.62,-18.10 L-8.95,-21.36 L-7.97,-24.55 L-6.81,-27.64 L-5.57,-30.62 L-4.41,-33.49 L-3.54,-36.26Z" fill="#fff" stroke="#1a1a1a" stroke-width="0.95" vector-effect="non-scaling-stroke"/><path d="M9.87,-34.41 L21.92,-28.05 L16.34,-22.49Z" fill="#fff" stroke="#1a1a1a" stroke-width="0.95" stroke-linejoin="round" vector-effect="non-scaling-stroke"/><path d="M28.05,-21.92 L34.41,-9.87 L22.49,-16.34Z" fill="#fff" stroke="#1a1a1a" stroke-width="0.95" stroke-linejoin="round" vector-effect="non-scaling-stroke"/><circle cx="16.55" cy="-16.55" r="2.5" fill="#999" stroke="#222" stroke-width="0.9" vector-effect="non-scaling-stroke"/><path d="M34.41,9.87 L28.05,21.92 L22.49,16.34Z" fill="#fff" stroke="#1a1a1a" stroke-width="0.95" stroke-linejoin="round" vector-effect="non-scaling-stroke"/><path d="M21.92,28.05 L9.87,34.41 L16.34,22.49Z" fill="#fff" stroke="#1a1a1a" stroke-width="0.95" stroke-linejoin="round" vector-effect="non-scaling-stroke"/><circle cx="16.55" cy="16.55" r="2.5" fill="#999" stroke="#222" stroke-width="0.9" vector-effect="non-scaling-stroke"/><path d="M-9.87,34.41 L-21.92,28.05 L-16.34,22.49Z" fill="#fff" stroke="#1a1a1a" stroke-width="0.95" stroke-linejoin="round" vector-effect="non-scaling-stroke"/><path d="M-28.05,21.92 L-34.41,9.87 L-22.49,16.34Z" fill="#fff" stroke="#1a1a1a" stroke-width="0.95" stroke-linejoin="round" vector-effect="non-scaling-stroke"/><circle cx="-16.55" cy="16.55" r="2.5" fill="#999" stroke="#222" stroke-width="0.9" vector-effect="non-scaling-stroke"/><path d="M-34.41,-9.87 L-28.05,-21.92 L-22.49,-16.34Z" fill="#fff" stroke="#1a1a1a" stroke-width="0.95" stroke-linejoin="round" vector-effect="non-scaling-stroke"/><path d="M-21.92,-28.05 L-9.87,-34.41 L-16.34,-22.49Z" fill="#fff" stroke="#1a1a1a" stroke-width="0.95" stroke-linejoin="round" vector-effect="non-scaling-stroke"/><circle cx="-16.55" cy="-16.55" r="2.5" fill="#999" stroke="#222" stroke-width="0.9" vector-effect="non-scaling-stroke"/></g>
<g transform="matrix(0.8660,-0.5,0,1,315.80,250.20)"><path d="M21.00,0.00 L23.32,1.41 L25.16,2.69 L25.07,3.41 L22.98,4.21 L20.39,5.03 L22.31,6.95 L23.78,8.63 L23.52,9.31 L21.31,9.59 L18.59,9.76 L20.00,12.09 L21.03,14.07 L20.61,14.67 L18.39,14.41 L15.72,13.93 L16.52,16.52 L17.05,18.69 L16.50,19.18 L14.41,18.39 L11.93,17.28 L12.09,20.00 L12.08,22.23 L11.43,22.57 L9.59,21.31 L7.45,19.64 L6.95,22.31 L6.41,24.47 L5.70,24.65 L4.21,22.98 L2.53,20.85 L1.41,23.32 L0.37,25.30 L-0.37,25.30 L-1.41,23.32 L-2.53,20.85 L-4.21,22.98 L-5.70,24.65 L-6.41,24.47 L-6.95,22.31 L-7.45,19.64 L-9.59,21.31 L-11.43,22.57 L-12.08,22.23 L-12.09,20.00 L-11.93,17.28 L-14.41,18.39 L-16.50,19.18 L-17.05,18.69 L-16.52,16.52 L-15.72,13.93 L-18.39,14.41 L-20.61,14.67 L-21.03,14.07 L-20.00,12.09 L-18.59,9.76 L-21.31,9.59 L-23.52,9.31 L-23.78,8.63 L-22.31,6.95 L-20.39,5.03 L-22.98,4.21 L-25.07,3.41 L-25.16,2.69 L-23.32,1.41 L-21.00,0.00 L-23.32,-1.41 L-25.16,-2.69 L-25.07,-3.41 L-22.98,-4.21 L-20.39,-5.03 L-22.31,-6.95 L-23.78,-8.63 L-23.52,-9.31 L-21.31,-9.59 L-18.59,-9.76 L-20.00,-12.09 L-21.03,-14.07 L-20.61,-14.67 L-18.39,-14.41 L-15.72,-13.93 L-16.52,-16.52 L-17.05,-18.69 L-16.50,-19.18 L-14.41,-18.39 L-11.93,-17.28 L-12.09,-20.00 L-12.08,-22.23 L-11.43,-22.57 L-9.59,-21.31 L-7.45,-19.64 L-6.95,-22.31 L-6.41,-24.47 L-5.70,-24.65 L-4.21,-22.98 L-2.53,-20.85 L-1.41,-23.32 L-0.37,-25.30 L0.37,-25.30 L1.41,-23.32 L2.53,-20.85 L4.21,-22.98 L5.70,-24.65 L6.41,-24.47 L6.95,-22.31 L7.45,-19.64 L9.59,-21.31 L11.43,-22.57 L12.08,-22.23 L12.09,-20.00 L11.93,-17.28 L14.41,-18.39 L16.50,-19.18 L17.05,-18.69 L16.52,-16.52 L15.72,-13.93 L18.39,-14.41 L20.61,-14.67 L21.03,-14.07 L20.00,-12.09 L18.59,-9.76 L21.31,-9.59 L23.52,-9.31 L23.78,-8.63 L22.31,-6.95 L20.39,-5.03 L22.98,-4.21 L25.07,-3.41 L25.16,-2.69 L23.32,-1.41Z" fill="#f6f6f6" stroke="#111" stroke-width="1.0" vector-effect="non-scaling-stroke"/><path d="M-7.64,-15.52 L-7.84,-15.39 L-8.02,-15.22 L-8.15,-15.01 L-8.25,-14.79 L-8.29,-14.55 L-8.29,-14.30 L-8.23,-14.06 L-8.13,-13.84 L-7.98,-13.64 L-7.75,-13.38 L-7.71,-13.33 L-7.51,-13.06 L-7.48,-13.02 L-7.31,-12.73 L-7.28,-12.68 L-7.14,-12.38 L-7.11,-12.32 L-7.00,-12.01 L-6.98,-11.95 L-6.90,-11.63 L-6.89,-11.57 L-6.84,-11.24 L-6.84,-11.18 L-6.82,-10.85 L-6.82,-10.79 L-6.84,-10.46 L-6.84,-10.40 L-6.85,-10.36 L-6.86,-10.14 L-6.83,-9.92 L-6.76,-9.71 L-6.65,-9.51 L-6.51,-9.34 L9.34,6.51 L9.51,6.65 L9.71,6.76 L9.92,6.83 L10.14,6.86 L10.36,6.85 L10.40,6.84 L10.46,6.84 L10.79,6.82 L10.85,6.82 L11.18,6.84 L11.24,6.84 L11.57,6.89 L11.63,6.90 L11.95,6.98 L12.01,7.00 L12.32,7.11 L12.38,7.14 L12.68,7.28 L12.73,7.31 L13.02,7.48 L13.06,7.51 L13.33,7.71 L13.38,7.75 L13.64,7.98 L13.84,8.13 L14.06,8.23 L14.30,8.29 L14.55,8.29 L14.79,8.25 L15.01,8.15 L15.22,8.02 L15.39,7.84 L15.52,7.64 L15.63,7.42 L15.65,7.37 L15.97,6.65 L15.99,6.59 L16.28,5.86 L16.30,5.80 L16.55,5.05 L16.56,4.99 L16.77,4.23 L16.79,4.17 L16.96,3.40 L16.97,3.35 L17.11,2.57 L17.12,2.51 L17.21,1.72 L17.22,1.67 L17.28,0.88 L17.28,0.82 L17.30,0.03 L17.30,-0.03 L17.28,-0.82 L17.28,-0.88 L17.22,-1.67 L17.21,-1.72 L17.12,-2.51 L17.11,-2.57 L16.97,-3.35 L16.96,-3.40 L16.79,-4.17 L16.77,-4.23 L16.56,-4.99 L16.55,-5.05 L16.30,-5.80 L16.28,-5.86 L15.99,-6.59 L15.97,-6.65 L15.81,-7.01 L15.70,-7.21 L15.55,-7.38 L15.38,-7.53 L15.18,-7.63 L14.96,-7.70 L14.74,-7.73 L14.51,-7.71 L14.29,-7.65 L14.09,-7.55 L13.91,-7.42 L13.76,-7.28 L13.71,-7.25 L13.40,-7.01 L13.35,-6.98 L13.01,-6.78 L12.96,-6.75 L12.61,-6.58 L12.55,-6.56 L12.18,-6.43 L12.13,-6.41 L11.74,-6.31 L11.69,-6.30 L11.30,-6.25 L11.24,-6.24 L10.85,-6.22 L10.79,-6.22 L10.40,-6.24 L10.34,-6.25 L9.95,-6.30 L9.89,-6.31 L9.51,-6.41 L9.46,-6.43 L9.09,-6.56 L9.03,-6.58 L8.68,-6.75 L8.63,-6.78 L8.29,-6.98 L8.24,-7.01 L7.92,-7.25 L7.88,-7.28 L7.59,-7.55 L7.55,-7.59 L7.28,-7.88 L7.25,-7.92 L7.01,-8.24 L6.98,-8.29 L6.78,-8.63 L6.75,-8.68 L6.58,-9.03 L6.56,-9.09 L6.43,-9.46 L6.41,-9.51 L6.31,-9.89 L6.30,-9.95 L6.25,-10.34 L6.24,-10.40 L6.22,-10.79 L6.22,-10.85 L6.24,-11.24 L6.25,-11.30 L6.30,-11.69 L6.31,-11.74 L6.41,-12.13 L6.43,-12.18 L6.56,-12.55 L6.58,-12.61 L6.75,-12.96 L6.78,-13.01 L6.98,-13.35 L7.01,-13.40 L7.25,-13.71 L7.28,-13.76 L7.42,-13.91 L7.55,-14.09 L7.65,-14.29 L7.71,-14.51 L7.73,-14.74 L7.70,-14.96 L7.63,-15.18 L7.53,-15.38 L7.38,-15.55 L7.21,-15.70 L7.01,-15.81 L6.65,-15.97 L6.59,-15.99 L5.86,-16.28 L5.80,-16.30 L5.05,-16.55 L4.99,-16.56 L4.23,-16.77 L4.17,-16.79 L3.40,-16.96 L3.35,-16.97 L2.57,-17.11 L2.51,-17.12 L1.72,-17.21 L1.67,-17.22 L0.88,-17.28 L0.82,-17.28 L0.03,-17.30 L-0.03,-17.30 L-0.82,-17.28 L-0.88,-17.28 L-1.67,-17.22 L-1.72,-17.21 L-2.51,-17.12 L-2.57,-17.11 L-3.35,-16.97 L-3.40,-16.96 L-4.17,-16.79 L-4.23,-16.77 L-4.99,-16.56 L-5.05,-16.55 L-5.80,-16.30 L-5.86,-16.28 L-6.59,-15.99 L-6.65,-15.97 L-7.37,-15.65 L-7.42,-15.63Z" fill="#fff" stroke="#222" stroke-width="0.9" vector-effect="non-scaling-stroke"/><path d="M-15.81,7.01 L-15.70,7.21 L-15.55,7.38 L-15.38,7.53 L-15.18,7.63 L-14.96,7.70 L-14.74,7.73 L-14.51,7.71 L-14.29,7.65 L-14.09,7.55 L-13.91,7.42 L-13.76,7.28 L-13.71,7.25 L-13.40,7.01 L-13.35,6.98 L-13.01,6.78 L-12.96,6.75 L-12.61,6.58 L-12.55,6.56 L-12.18,6.43 L-12.13,6.41 L-11.74,6.31 L-11.69,6.30 L-11.30,6.25 L-11.24,6.24 L-10.85,6.22 L-10.79,6.22 L-10.40,6.24 L-10.34,6.25 L-9.95,6.30 L-9.89,6.31 L-9.51,6.41 L-9.46,6.43 L-9.09,6.56 L-9.03,6.58 L-8.68,6.75 L-8.63,6.78 L-8.29,6.98 L-8.24,7.01 L-7.92,7.25 L-7.88,7.28 L-7.59,7.55 L-7.55,7.59 L-7.28,7.88 L-7.25,7.92 L-7.01,8.24 L-6.98,8.29 L-6.78,8.63 L-6.75,8.68 L-6.58,9.03 L-6.56,9.09 L-6.43,9.46 L-6.41,9.51 L-6.31,9.89 L-6.30,9.95 L-6.25,10.34 L-6.24,10.40 L-6.22,10.79 L-6.22,10.85 L-6.24,11.24 L-6.25,11.30 L-6.30,11.69 L-6.31,11.74 L-6.41,12.13 L-6.43,12.18 L-6.56,12.55 L-6.58,12.61 L-6.75,12.96 L-6.78,13.01 L-6.98,13.35 L-7.01,13.40 L-7.25,13.71 L-7.28,13.76 L-7.42,13.91 L-7.55,14.09 L-7.65,14.29 L-7.71,14.51 L-7.73,14.74 L-7.70,14.96 L-7.63,15.18 L-7.53,15.38 L-7.38,15.55 L-7.21,15.70 L-7.01,15.81 L-6.65,15.97 L-6.59,15.99 L-5.86,16.28 L-5.80,16.30 L-5.05,16.55 L-4.99,16.56 L-4.23,16.77 L-4.17,16.79 L-3.40,16.96 L-3.35,16.97 L-2.57,17.11 L-2.51,17.12 L-1.72,17.21 L-1.67,17.22 L-0.88,17.28 L-0.82,17.28 L-0.03,17.30 L0.03,17.30 L0.82,17.28 L0.88,17.28 L1.67,17.22 L1.72,17.21 L2.51,17.12 L2.57,17.11 L3.35,16.97 L3.40,16.96 L4.17,16.79 L4.23,16.77 L4.99,16.56 L5.05,16.55 L5.80,16.30 L5.86,16.28 L6.59,15.99 L6.65,15.97 L7.37,15.65 L7.42,15.63 L7.64,15.52 L7.84,15.39 L8.02,15.22 L8.15,15.01 L8.25,14.79 L8.29,14.55 L8.29,14.30 L8.23,14.06 L8.13,13.84 L7.98,13.64 L7.75,13.38 L7.71,13.33 L7.51,13.06 L7.48,13.02 L7.31,12.73 L7.28,12.68 L7.14,12.38 L7.11,12.32 L7.00,12.01 L6.98,11.95 L6.90,11.63 L6.89,11.57 L6.84,11.24 L6.84,11.18 L6.82,10.85 L6.82,10.79 L6.84,10.46 L6.84,10.40 L6.85,10.36 L6.86,10.14 L6.83,9.92 L6.76,9.71 L6.65,9.51 L6.51,9.34 L-9.34,-6.51 L-9.51,-6.65 L-9.71,-6.76 L-9.92,-6.83 L-10.14,-6.86 L-10.36,-6.85 L-10.40,-6.84 L-10.46,-6.84 L-10.79,-6.82 L-10.85,-6.82 L-11.18,-6.84 L-11.24,-6.84 L-11.57,-6.89 L-11.63,-6.90 L-11.95,-6.98 L-12.01,-7.00 L-12.32,-7.11 L-12.38,-7.14 L-12.68,-7.28 L-12.73,-7.31 L-13.02,-7.48 L-13.06,-7.51 L-13.33,-7.71 L-13.38,-7.75 L-13.64,-7.98 L-13.84,-8.13 L-14.06,-8.23 L-14.30,-8.29 L-14.55,-8.29 L-14.79,-8.25 L-15.01,-8.15 L-15.22,-8.02 L-15.39,-7.84 L-15.52,-7.64 L-15.63,-7.42 L-15.65,-7.37 L-15.97,-6.65 L-15.99,-6.59 L-16.28,-5.86 L-16.30,-5.80 L-16.55,-5.05 L-16.56,-4.99 L-16.77,-4.23 L-16.79,-4.17 L-16.96,-3.40 L-16.97,-3.35 L-17.11,-2.57 L-17.12,-2.51 L-17.21,-1.72 L-17.22,-1.67 L-17.28,-0.88 L-17.28,-0.82 L-17.30,-0.03 L-17.30,0.03 L-17.28,0.82 L-17.28,0.88 L-17.22,1.67 L-17.21,1.72 L-17.12,2.51 L-17.11,2.57 L-16.97,3.35 L-16.96,3.40 L-16.79,4.17 L-16.77,4.23 L-16.56,4.99 L-16.55,5.05 L-16.30,5.80 L-16.28,5.86 L-15.99,6.59 L-15.97,6.65Z" fill="#fff" stroke="#222" stroke-width="0.9" vector-effect="non-scaling-stroke"/><circle cx="10.82" cy="-10.82" r="1.5" fill="#fff" stroke="#333" stroke-width="0.8" vector-effect="non-scaling-stroke"/><circle cx="10.82" cy="10.82" r="1.5" fill="#fff" stroke="#333" stroke-width="0.8" vector-effect="non-scaling-stroke"/><circle cx="-10.82" cy="10.82" r="1.5" fill="#fff" stroke="#333" stroke-width="0.8" vector-effect="non-scaling-stroke"/><circle cx="-10.82" cy="-10.82" r="1.5" fill="#fff" stroke="#333" stroke-width="0.8" vector-effect="non-scaling-stroke"/></g>
<g transform="matrix(0.8660,-0.5,0,1,359.30,275.00)"><path d="M30.60,0.00 L32.66,1.43 L34.30,2.64 L34.24,3.36 L32.41,4.27 L30.14,5.31 L31.92,7.08 L33.32,8.55 L33.13,9.25 L31.18,9.83 L28.75,10.47 L30.20,12.51 L31.33,14.21 L31.02,14.86 L29.00,15.09 L26.50,15.30 L27.57,17.56 L28.38,19.43 L27.97,20.03 L25.93,19.90 L23.44,19.67 L24.10,22.09 L24.58,24.07 L24.07,24.58 L22.09,24.10 L19.67,23.44 L19.90,25.93 L20.03,27.97 L19.43,28.38 L17.56,27.57 L15.30,26.50 L15.09,29.00 L14.86,31.02 L14.21,31.33 L12.51,30.20 L10.47,28.75 L9.83,31.18 L9.25,33.13 L8.55,33.32 L7.08,31.92 L5.31,30.14 L4.27,32.41 L3.36,34.24 L2.64,34.30 L1.43,32.66 L0.00,30.60 L-1.43,32.66 L-2.64,34.30 L-3.36,34.24 L-4.27,32.41 L-5.31,30.14 L-7.08,31.92 L-8.55,33.32 L-9.25,33.13 L-9.83,31.18 L-10.47,28.75 L-12.51,30.20 L-14.21,31.33 L-14.86,31.02 L-15.09,29.00 L-15.30,26.50 L-17.56,27.57 L-19.43,28.38 L-20.03,27.97 L-19.90,25.93 L-19.67,23.44 L-22.09,24.10 L-24.07,24.58 L-24.58,24.07 L-24.10,22.09 L-23.44,19.67 L-25.93,19.90 L-27.97,20.03 L-28.38,19.43 L-27.57,17.56 L-26.50,15.30 L-29.00,15.09 L-31.02,14.86 L-31.33,14.21 L-30.20,12.51 L-28.75,10.47 L-31.18,9.83 L-33.13,9.25 L-33.32,8.55 L-31.92,7.08 L-30.14,5.31 L-32.41,4.27 L-34.24,3.36 L-34.30,2.64 L-32.66,1.43 L-30.60,0.00 L-32.66,-1.43 L-34.30,-2.64 L-34.24,-3.36 L-32.41,-4.27 L-30.14,-5.31 L-31.92,-7.08 L-33.32,-8.55 L-33.13,-9.25 L-31.18,-9.83 L-28.75,-10.47 L-30.20,-12.51 L-31.33,-14.21 L-31.02,-14.86 L-29.00,-15.09 L-26.50,-15.30 L-27.57,-17.56 L-28.38,-19.43 L-27.97,-20.03 L-25.93,-19.90 L-23.44,-19.67 L-24.10,-22.09 L-24.58,-24.07 L-24.07,-24.58 L-22.09,-24.10 L-19.67,-23.44 L-19.90,-25.93 L-20.03,-27.97 L-19.43,-28.38 L-17.56,-27.57 L-15.30,-26.50 L-15.09,-29.00 L-14.86,-31.02 L-14.21,-31.33 L-12.51,-30.20 L-10.47,-28.75 L-9.83,-31.18 L-9.25,-33.13 L-8.55,-33.32 L-7.08,-31.92 L-5.31,-30.14 L-4.27,-32.41 L-3.36,-34.24 L-2.64,-34.30 L-1.43,-32.66 L-0.00,-30.60 L1.43,-32.66 L2.64,-34.30 L3.36,-34.24 L4.27,-32.41 L5.31,-30.14 L7.08,-31.92 L8.55,-33.32 L9.25,-33.13 L9.83,-31.18 L10.47,-28.75 L12.51,-30.20 L14.21,-31.33 L14.86,-31.02 L15.09,-29.00 L15.30,-26.50 L17.56,-27.57 L19.43,-28.38 L20.03,-27.97 L19.90,-25.93 L19.67,-23.44 L22.09,-24.10 L24.07,-24.58 L24.58,-24.07 L24.10,-22.09 L23.44,-19.67 L25.93,-19.90 L27.97,-20.03 L28.38,-19.43 L27.57,-17.56 L26.50,-15.30 L29.00,-15.09 L31.02,-14.86 L31.33,-14.21 L30.20,-12.51 L28.75,-10.47 L31.18,-9.83 L33.13,-9.25 L33.32,-8.55 L31.92,-7.08 L30.14,-5.31 L32.41,-4.27 L34.24,-3.36 L34.30,-2.64 L32.66,-1.43Z" fill="#eee" stroke="#111" stroke-width="1.0" vector-effect="non-scaling-stroke"/><circle r="29.8" fill="none" stroke="#555" stroke-width="0.7" vector-effect="non-scaling-stroke"/><circle r="28.3" fill="none" stroke="#999" stroke-width="0.6" vector-effect="non-scaling-stroke"/><path d="M-15.49,-22.12 L-14.31,-22.90 L-13.09,-23.61 L-11.84,-24.27 L-10.55,-24.85 L-9.23,-25.37 L-7.89,-25.82 L-6.53,-26.20 L-5.15,-26.50 L-3.76,-26.74 L-2.35,-26.90 L-0.94,-26.98 L0.47,-27.00 L1.88,-26.93 L3.29,-26.80 L4.69,-26.59 L6.07,-26.31 L7.44,-25.95 L8.79,-25.53 L10.11,-25.03 L11.41,-24.47 L12.68,-23.84 L13.91,-23.14 L15.10,-22.38 L15.87,-21.84 L12.05,-16.58 L16.58,-12.05 L21.84,-15.87 L22.12,-15.49 L22.90,-14.31 L23.61,-13.09 L24.27,-11.84 L24.85,-10.55 L25.37,-9.23 L25.82,-7.89 L26.20,-6.53 L26.50,-5.15 L26.74,-3.76 L26.90,-2.35 L26.98,-0.94 L27.00,0.47 L26.93,1.88 L26.80,3.29 L26.59,4.69 L26.31,6.07 L25.95,7.44 L25.53,8.79 L25.03,10.11 L24.47,11.41 L23.84,12.68 L23.14,13.91 L22.38,15.10 L21.84,15.87 L16.58,12.05 L12.05,16.58 L15.87,21.84 L15.49,22.12 L14.31,22.90 L13.09,23.61 L11.84,24.27 L10.55,24.85 L9.23,25.37 L7.89,25.82 L6.53,26.20 L5.15,26.50 L3.76,26.74 L2.35,26.90 L0.94,26.98 L-0.47,27.00 L-1.88,26.93 L-3.29,26.80 L-4.69,26.59 L-6.07,26.31 L-7.44,25.95 L-8.79,25.53 L-10.11,25.03 L-11.41,24.47 L-12.68,23.84 L-13.91,23.14 L-15.10,22.38 L-15.87,21.84 L-12.05,16.58 L-16.58,12.05 L-21.84,15.87 L-22.12,15.49 L-22.90,14.31 L-23.61,13.09 L-24.27,11.84 L-24.85,10.55 L-25.37,9.23 L-25.82,7.89 L-26.20,6.53 L-26.50,5.15 L-26.74,3.76 L-26.90,2.35 L-26.98,0.94 L-27.00,-0.47 L-26.93,-1.88 L-26.80,-3.29 L-26.59,-4.69 L-26.31,-6.07 L-25.95,-7.44 L-25.53,-8.79 L-25.03,-10.11 L-24.47,-11.41 L-23.84,-12.68 L-23.14,-13.91 L-22.38,-15.10 L-21.84,-15.87 L-16.58,-12.05 L-12.05,-16.58 L-15.87,-21.84Z" fill="#fff" stroke="#222" stroke-width="0.9" vector-effect="non-scaling-stroke"/><rect x="14.40" y="-18.00" width="4" height="3.2" fill="#fff" stroke="#444" stroke-width="0.7" vector-effect="non-scaling-stroke"/><rect x="14.40" y="14.80" width="4" height="3.2" fill="#fff" stroke="#444" stroke-width="0.7" vector-effect="non-scaling-stroke"/><rect x="-18.40" y="14.80" width="4" height="3.2" fill="#fff" stroke="#444" stroke-width="0.7" vector-effect="non-scaling-stroke"/><rect x="-18.40" y="-18.00" width="4" height="3.2" fill="#fff" stroke="#444" stroke-width="0.7" vector-effect="non-scaling-stroke"/></g>
<path d="M448.92,95.57 L472.09,108.84 M532.12,340.40 L541.52,345.84 M558.56,355.70 L567.38,360.80 M319.22,231.63 L322.16,233.28 M327.62,236.34 L330.56,237.98 M346.31,269.12 L371.46,283.72 M354.50,251.38 L382.64,267.12 M367.62,245.20 L372.32,247.92 M377.02,250.64 L381.73,253.36" stroke="#333" stroke-width="0.7" fill="none"/>
<circle transform="matrix(0.8660,-0.5,0,1,388.10,292.20)" r="7.6" fill="none" stroke="#222" stroke-width="0.9" vector-effect="non-scaling-stroke" /><circle transform="matrix(0.8660,-0.5,0,1,388.10,292.20)" r="6.8" fill="none" stroke="#bbb" stroke-width="1.6"/><circle transform="matrix(0.8660,-0.5,0,1,388.10,292.20)" r="7.6" fill="none" stroke="#222" stroke-width="0.9" vector-effect="non-scaling-stroke" /><circle transform="matrix(0.8660,-0.5,0,1,388.10,292.20)" r="6.0" fill="none" stroke="#222" stroke-width="0.9" vector-effect="non-scaling-stroke" />
<path d="M406.30,290.02 L408.40,291.22 L398.60,308.18 L396.50,306.98Z" fill="#ccc" stroke="none"/><path d="M406.30,290.02 L408.40,291.22 M396.50,306.98 L398.60,308.18" stroke="#222" stroke-width="1.0" fill="none"/>
<circle transform="matrix(0.8660,-0.5,0,1,401.40,298.50)" r="8.0" fill="#bbb" stroke="#111" stroke-width="1.2" vector-effect="non-scaling-stroke" />
<circle transform="matrix(0.8660,-0.5,0,1,403.60,299.70)" r="8.0" fill="#e6e6e6" stroke="#111" stroke-width="1.2" vector-effect="non-scaling-stroke" />
<circle transform="matrix(0.8660,-0.5,0,1,403.80,299.80)" r="5.0" fill="#fff" stroke="#111" stroke-width="1.2" vector-effect="non-scaling-stroke" />
<path d="M414.68,301.48 L455.18,324.98 L448.82,336.02 L408.32,312.52Z" fill="#f2f2f2" stroke="none"/><path d="M414.68,301.48 L455.18,324.98 M408.32,312.52 L448.82,336.02" stroke="#222" stroke-width="1.0" fill="none"/>
<path d="M427,310.5 L449,323" stroke="#aaa" stroke-width="0.7"/>
<path d="M414.68,301.48 L421.68,305.48 L415.32,316.52 L408.32,312.52Z" fill="#888" stroke="none"/><path d="M414.68,301.48 L421.68,305.48 M408.32,312.52 L415.32,316.52" stroke="#222" stroke-width="1.0" fill="none"/>
<path d="M414.5,302.9 L409.5,311.7" stroke="#444" stroke-width="0.5"/>
<path d="M415.5,303.5 L410.5,312.3" stroke="#444" stroke-width="0.5"/>
<path d="M416.5,304.1 L411.5,312.9" stroke="#444" stroke-width="0.5"/>
<path d="M417.5,304.6 L412.5,313.4" stroke="#444" stroke-width="0.5"/>
<path d="M418.5,305.2 L413.5,314.0" stroke="#444" stroke-width="0.5"/>
<path d="M419.5,305.8 L414.5,314.6" stroke="#444" stroke-width="0.5"/>
<path d="M420.5,306.4 L415.5,315.2" stroke="#444" stroke-width="0.5"/>
<circle transform="matrix(0.8660,-0.5,0,1,411.50,307.00)" r="5.2" fill="#ddd" stroke="#222" stroke-width="1.0" vector-effect="non-scaling-stroke" />
<path d="M478.5,304 C482,303 484,306 483,310 L482.5,316 C486,322 486,335 485.8,350 L487,424 C487.5,432 484,436 480,436 C475,436 472,432 471.5,426 L465.5,370 C464,362 460,356 455,362 C451,366 447,364 447.5,358 C448,352 451,349 454,349 C457,346 459,342 458,338 C455,334 451,333 448,330 C445,327 446,322 450,321.5 C454,321 459,323 466,326 L473.5,315 C474,309 475,305 478.5,304 Z" fill="#f4f4f4" stroke="#222" stroke-width="1.0"/>
<path d="M469,346 L476,428 M481,352 L483.5,424" fill="none" stroke="#999" stroke-width="0.7"/>
<path d="M452,327 C458,330 463,331 466,334 M453,353 C456,352 459,350 461,347 M476,312 C478,318 479,322 481,330" fill="none" stroke="#555" stroke-width="0.8"/>
<circle transform="matrix(0.8660,-0.5,0,1,475.00,341.80)" r="9.0" fill="#efefef" stroke="#555" stroke-width="0.9" vector-effect="non-scaling-stroke" />
<circle transform="matrix(0.8660,-0.5,0,1,475.00,342.00)" r="6.8" fill="#666" stroke="#111" stroke-width="1.1" vector-effect="non-scaling-stroke" />
<circle transform="matrix(0.8660,-0.5,0,1,475.60,342.40)" r="5.2" fill="#e4e4e4" stroke="none" stroke-width="0" vector-effect="non-scaling-stroke" />
<circle transform="matrix(0.8660,-0.5,0,1,450.80,327.80)" r="2.0" fill="#aaa" stroke="#222" stroke-width="0.9" vector-effect="non-scaling-stroke" />
<circle transform="matrix(0.8660,-0.5,0,1,478.80,308.20)" r="2.0" fill="#aaa" stroke="#222" stroke-width="0.9" vector-effect="non-scaling-stroke" />
<circle transform="matrix(0.8660,-0.5,0,1,451.00,358.50)" r="2.2" fill="#aaa" stroke="#222" stroke-width="0.9" vector-effect="non-scaling-stroke" />
<circle transform="matrix(0.8660,-0.5,0,1,480.50,428.50)" r="4.2" fill="#777" stroke="#333" stroke-width="0.9" vector-effect="non-scaling-stroke" />
<text transform="translate(481,371) rotate(-74)" font-family="Liberation Sans" font-style="italic" font-weight="bold" font-size="12.5" fill="#111" stroke="none">XT</text>
<path d="M481,392 L482.5,412" stroke="#666" stroke-width="1" stroke-dasharray="1,0.7"/>
<path d="M585.38,366.52 L587.65,368.14 L584.35,373.86 L581.82,372.68Z" fill="#ddd" stroke="none"/><path d="M585.38,366.52 L587.65,368.14 M581.82,372.68 L584.35,373.86" stroke="#222" stroke-width="1.1" fill="none"/>
<circle transform="matrix(0.8660,-0.5,0,1,583.60,369.60)" r="2.9" fill="#bbb" stroke="#111" stroke-width="1.2" vector-effect="non-scaling-stroke" />
<circle transform="matrix(0.8660,-0.5,0,1,586.00,371.00)" r="2.7" fill="#f2f2f2" stroke="#111" stroke-width="1.1" vector-effect="non-scaling-stroke" />
<path d="M549.66,90.32 L551.70,91.17 L553.60,92.24 L555.36,93.53 L556.98,95.03 L558.43,96.73 L559.72,98.64 L560.83,100.73 L561.77,103.00 L562.53,105.44 L563.10,108.03 L563.48,110.76 L563.67,113.62 L563.67,116.60 L563.48,119.68 L563.10,122.84 L562.53,126.08 L561.77,129.36 L560.83,132.69 L559.72,136.03 L558.43,139.39 L556.98,142.73 L555.36,146.04 L553.60,149.32 L551.70,152.53 L549.66,155.67 L547.50,158.72 L545.22,161.66 L542.85,164.49 L540.38,167.18 L537.84,169.72 L535.23,172.11 L532.57,174.33 L529.87,176.36 L529.87,176.36 L525.27,173.76 L525.27,173.76 L527.97,171.73 L530.63,169.51 L533.24,167.12 L535.78,164.58 L538.25,161.89 L540.62,159.06 L542.90,156.12 L545.06,153.07 L547.10,149.93 L549.00,146.72 L550.76,143.44 L552.38,140.13 L553.83,136.79 L555.12,133.43 L556.23,130.09 L557.17,126.76 L557.93,123.48 L558.50,120.24 L558.88,117.08 L559.07,114.00 L559.07,111.02 L558.88,108.16 L558.50,105.43 L557.93,102.84 L557.17,100.40 L556.23,98.13 L555.12,96.04 L553.83,94.13 L552.38,92.43 L550.76,90.93 L549.00,89.64 L547.10,88.57 L545.06,87.72Z" fill="#f0f0f0" stroke="none"/><path d="M545.06,87.72 L547.10,88.57 L549.00,89.64 L550.76,90.93 L552.38,92.43 L553.83,94.13 L555.12,96.04 L556.23,98.13 L557.17,100.40 L557.93,102.84 L558.50,105.43 L558.88,108.16 L559.07,111.02 L559.07,114.00 L558.88,117.08 L558.50,120.24 L557.93,123.48 L557.17,126.76 L556.23,130.09 L555.12,133.43 L553.83,136.79 L552.38,140.13 L550.76,143.44 L549.00,146.72 L547.10,149.93 L545.06,153.07 L542.90,156.12 L540.62,159.06 L538.25,161.89 L535.78,164.58 L533.24,167.12 L530.63,169.51 L527.97,171.73 L525.27,173.76 L525.27,173.76" fill="none" stroke="#222" stroke-width="0.9"/><path d="M547.36,89.02 L549.40,89.87 L551.30,90.94 L553.06,92.23 L554.68,93.73 L556.13,95.43 L557.42,97.34 L558.53,99.43 L559.47,101.70 L560.23,104.14 L560.80,106.73 L561.18,109.46 L561.37,112.32 L561.37,115.30 L561.18,118.38 L560.80,121.54 L560.23,124.78 L559.47,128.06 L558.53,131.39 L557.42,134.73 L556.13,138.09 L554.68,141.43 L553.06,144.74 L551.30,148.02 L549.40,151.23 L547.36,154.37 L545.20,157.42 L542.92,160.36 L540.55,163.19 L538.08,165.88 L535.54,168.42 L532.93,170.81 L530.27,173.03 L527.57,175.06 L527.57,175.06" fill="none" stroke="#888" stroke-width="0.7"/><path d="M529.87,176.36 L525.27,173.76" stroke="#222" stroke-width="0.9"/><circle transform="matrix(0.889,-0.5,0,0.965,524.4,137.2)" r="46.6" fill="none" stroke="#f4f4f4" stroke-width="4.8"/><circle transform="matrix(0.889,-0.5,0,0.965,524.4,137.2)" r="49" fill="none" stroke="#222" stroke-width="0.9" vector-effect="non-scaling-stroke"/><circle transform="matrix(0.889,-0.5,0,0.965,524.4,137.2)" r="47.3" fill="none" stroke="#aaa" stroke-width="0.6" vector-effect="non-scaling-stroke"/><circle transform="matrix(0.889,-0.5,0,0.965,524.4,137.2)" r="44.2" fill="none" stroke="#222" stroke-width="0.9" vector-effect="non-scaling-stroke"/>
<path d="M547.12,89.90 L551.92,92.70 L547.88,99.70 L543.08,96.90Z" fill="#e6e6e6" stroke="none"/><path d="M547.12,89.90 L551.92,92.70 M543.08,96.90 L547.88,99.70" stroke="#222" stroke-width="0.9" fill="none"/><circle transform="matrix(0.8660,-0.5,0,1,545.10,93.40)" r="3.3" fill="#ccc" stroke="#222" stroke-width="0.9" vector-effect="non-scaling-stroke" /><circle transform="matrix(0.8660,-0.5,0,1,549.90,96.20)" r="3.3" fill="#f6f6f6" stroke="#222" stroke-width="0.9" vector-effect="non-scaling-stroke" />
<path d="M498.02,119.10 L502.82,121.90 L498.78,128.90 L493.98,126.10Z" fill="#e6e6e6" stroke="none"/><path d="M498.02,119.10 L502.82,121.90 M493.98,126.10 L498.78,128.90" stroke="#222" stroke-width="0.9" fill="none"/><circle transform="matrix(0.8660,-0.5,0,1,496.00,122.60)" r="3.3" fill="#ccc" stroke="#222" stroke-width="0.9" vector-effect="non-scaling-stroke" /><circle transform="matrix(0.8660,-0.5,0,1,500.80,125.40)" r="3.3" fill="#f6f6f6" stroke="#222" stroke-width="0.9" vector-effect="non-scaling-stroke" />
<path d="M546.12,146.70 L550.92,149.50 L546.88,156.50 L542.08,153.70Z" fill="#e6e6e6" stroke="none"/><path d="M546.12,146.70 L550.92,149.50 M542.08,153.70 L546.88,156.50" stroke="#222" stroke-width="0.9" fill="none"/><circle transform="matrix(0.8660,-0.5,0,1,544.10,150.20)" r="3.3" fill="#ccc" stroke="#222" stroke-width="0.9" vector-effect="non-scaling-stroke" /><circle transform="matrix(0.8660,-0.5,0,1,548.90,153.00)" r="3.3" fill="#f6f6f6" stroke="#222" stroke-width="0.9" vector-effect="non-scaling-stroke" />
<path d="M496.82,174.70 L501.62,177.50 L497.58,184.50 L492.78,181.70Z" fill="#e6e6e6" stroke="none"/><path d="M496.82,174.70 L501.62,177.50 M492.78,181.70 L497.58,184.50" stroke="#222" stroke-width="0.9" fill="none"/><circle transform="matrix(0.8660,-0.5,0,1,494.80,178.20)" r="3.3" fill="#ccc" stroke="#222" stroke-width="0.9" vector-effect="non-scaling-stroke" /><circle transform="matrix(0.8660,-0.5,0,1,499.60,181.00)" r="3.3" fill="#f6f6f6" stroke="#222" stroke-width="0.9" vector-effect="non-scaling-stroke" />
<path d="M499,186 L513,190.5 L514,193 L500,189.5 Z" fill="#eee" stroke="#333" stroke-width="0.8"/>
<path d="M578.01,109.73 L580.19,111.24 L577.01,116.76 L574.59,115.67Z" fill="#555" stroke="none"/><path d="M578.01,109.73 L580.19,111.24 M574.59,115.67 L577.01,116.76" stroke="#222" stroke-width="1.0" fill="none"/>
<circle transform="matrix(0.8660,-0.5,0,1,576.30,112.70)" r="2.8" fill="#555" stroke="#222" stroke-width="0.9" vector-effect="non-scaling-stroke" />
<circle transform="matrix(0.8660,-0.5,0,1,578.60,114.00)" r="2.6" fill="#ccc" stroke="#222" stroke-width="0.9" vector-effect="non-scaling-stroke" />
<g class="ln">
  <path d="M7,53 V64"/>
  <path d="M111.5,47 H120.2"/>
  <path d="M89.7,78.8 V84 M83.6,92.5 V84 H97.5 V88.5"/>
  <path d="M45.8,146.6 V143 M38,134.5 V143 H52.6 V129"/>
  <path d="M68,140 L71.5,150"/>
  <path d="M89.6,128.5 L89.7,137.6"/>
  <path d="M134.3,101 V83 L284,169.8 V188 M284,198.8 V216.7"/>
  <path d="M134.3,111.7 V130.6"/>
  <path d="M157,96.2 V114.1 M157,124.9 V144.8"/>
  <path d="M209.2,118.7 V126"/>
  <path d="M194.6,117.8 V124.2 M194.6,135 V144 M196,146 V169.6"/>
  <path d="M171.7,138.4 V130.6 L216.5,156.5 V163.4 M171.7,149.2 V156.5 M217,174.2 V184.8"/>
  <path d="M232.4,139.9 V157.6 M232.4,168.4 V188"/>
  <path d="M249,149.5 V166.9 M249,177.7 V198"/>
  <path d="M263.8,158.1 V175.4 M263.8,186.2 V206"/>
  <path d="M303.2,206.9 V217.7"/>
  <path d="M308.6,279 V289.1"/>
  <path d="M349.8,315 V325.4"/>
  <path d="M385.5,298 L385,310.1"/>
  <path d="M400.5,305 V319.6"/>
  <path d="M350.6,231 V187.6 L584.6,321.6 V366"/>
  <path d="M467.9,246.9 V253.6"/>
  <path d="M537,427 V433.6"/>
  <path d="M454.8,152.4 V161.8"/>
  <path d="M557.9,58.4 V66"/>
  <path d="M538,62.5 V54.8 L577.5,77.3 V85.9 M538,73.3 V82.3 M578,96.7 V110"/>
</g>
<circle class="lc" cx="7" cy="47.4" r="5.5"/>
<text class="lt" transform="translate(7,50.85) scale(0.86,1)">1</text>
<circle class="lc" cx="125.6" cy="47" r="5.5"/>
<text class="lt" transform="translate(125.6,50.45) scale(0.86,1)">2</text>
<circle class="lc" cx="89.7" cy="73.4" r="5.5"/>
<text class="lt" transform="translate(89.7,76.85) scale(0.86,1)">3</text>
<circle class="lc" cx="45.8" cy="152" r="5.5"/>
<text class="lt" transform="translate(45.8,155.45) scale(0.86,1)">3</text>
<circle class="lc" cx="72.8" cy="155.4" r="5.5"/>
<text class="lt" transform="translate(72.8,158.85) scale(0.86,1)">4</text>
<circle class="lc" cx="89.7" cy="143" r="5.5"/>
<text class="lt" transform="translate(89.7,146.45) scale(0.86,1)">5</text>
<circle class="lc" cx="134.3" cy="106.3" r="5.5"/>
<text class="lt" transform="translate(134.3,109.75) scale(0.86,1)">7</text>
<circle class="lc" cx="157" cy="119.5" r="5.5"/>
<text class="lt" transform="translate(157,122.95) scale(0.86,1)">8</text>
<circle class="lc" cx="209.2" cy="113.3" r="5.5"/>
<text class="lt" transform="translate(209.2,116.75) scale(0.86,1)">6</text>
<circle class="lc" cx="194.6" cy="129.6" r="5.5"/>
<text class="lt" transform="translate(194.6,133.05) scale(0.86,1)">9</text>
<circle class="lc" cx="171.7" cy="143.8" r="5.5"/>
<text class="lt" transform="translate(171.7,147.25) scale(0.7,1)">10</text>
<circle class="lc" cx="217" cy="168.8" r="5.5"/>
<text class="lt" transform="translate(217,172.25) scale(0.7,1)">10</text>
<circle class="lc" cx="232.4" cy="163" r="5.5"/>
<text class="lt" transform="translate(232.4,166.45) scale(0.7,1)">11</text>
<circle class="lc" cx="249" cy="172.3" r="5.5"/>
<text class="lt" transform="translate(249,175.75) scale(0.7,1)">12</text>
<circle class="lc" cx="263.8" cy="180.8" r="5.5"/>
<text class="lt" transform="translate(263.8,184.25) scale(0.86,1)">8</text>
<circle class="lc" cx="284" cy="193.4" r="5.5"/>
<text class="lt" transform="translate(284,196.85) scale(0.7,1)">13</text>
<circle class="lc" cx="303.2" cy="201.5" r="5.5"/>
<text class="lt" transform="translate(303.2,204.95) scale(0.7,1)">16</text>
<circle class="lc" cx="308.6" cy="294.5" r="5.5"/>
<text class="lt" transform="translate(308.6,297.95) scale(0.7,1)">17</text>
<circle class="lc" cx="349.8" cy="330.8" r="5.5"/>
<text class="lt" transform="translate(349.8,334.25) scale(0.7,1)">18</text>
<circle class="lc" cx="385" cy="315.5" r="5.5"/>
<text class="lt" transform="translate(385,318.95) scale(0.86,1)">5</text>
<circle class="lc" cx="400.2" cy="325" r="5.5"/>
<text class="lt" transform="translate(400.2,328.45) scale(0.7,1)">14</text>
<circle class="lc" cx="467.9" cy="241.5" r="5.5"/>
<text class="lt" transform="translate(467.9,244.95) scale(0.7,1)">15</text>
<circle class="lc" cx="537" cy="439" r="5.5"/>
<text class="lt" transform="translate(537,442.45) scale(0.7,1)">19</text>
<circle class="lc" cx="454.8" cy="167.2" r="5.5"/>
<text class="lt" transform="translate(454.8,170.65) scale(0.7,1)">19</text>
<circle class="lc" cx="557.9" cy="53" r="5.5"/>
<text class="lt" transform="translate(557.9,56.45) scale(0.7,1)">20</text>
<circle class="lc" cx="538" cy="67.9" r="5.5"/>
<text class="lt" transform="translate(538,71.35) scale(0.7,1)">22</text>
<circle class="lc" cx="578" cy="91.3" r="5.5"/>
<text class="lt" transform="translate(578,94.75) scale(0.7,1)">21</text>

</svg>
</body></html>
